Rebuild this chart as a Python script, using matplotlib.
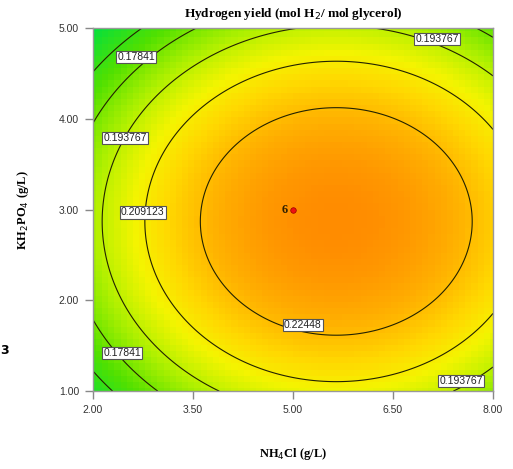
import numpy as np
import matplotlib
matplotlib.use("Agg")
import matplotlib.pyplot as plt
from matplotlib.colors import LinearSegmentedColormap

# quadratic response surface
peak_yield = 0.2401
x_center = 5.65
y_center = 2.87
x_curv = 0.00376
y_curv = 0.00994

x_range = [2.0, 8.0]
y_range = [1.0, 5.0]
levels = [0.163053, 0.17841, 0.193767, 0.209123, 0.22448]

label_texts = ["0.17841", "0.193767", "0.209123", "0.22448", "0.193767", "0.17841", "0.193767"]
label_x = [2.65, 2.48, 2.75, 5.15, 7.16, 2.44, 7.52]
label_y = [4.68, 3.79, 2.97, 1.73, 4.88, 1.42, 1.11]

design_x = [5.0]
design_y = [3.0]
design_n = ["6"]

xticks = [2.0, 3.5, 5.0, 6.5, 8.0]
yticks = [1.0, 2.0, 3.0, 4.0, 5.0]

cmap = LinearSegmentedColormap.from_list("dx", [
    (0.0, "#00e040"), (0.27, "#50e000"), (0.48, "#b0f000"),
    (0.64, "#f4f400"), (0.75, "#ffd800"), (0.86, "#ffb400"), (1.0, "#ff8c00")])

fig = plt.figure(figsize=(5.13, 4.69), dpi=100)
ax = fig.add_axes([0.181, 0.166, 0.780, 0.774])

# coarse grid for the blocky look, fine grid for the contour lines
xc = np.linspace(x_range[0], x_range[1], 66)
yc = np.linspace(y_range[0], y_range[1], 60)
Xc, Yc = np.meshgrid(xc, yc)
Zc = peak_yield - x_curv * (Xc - x_center) ** 2 - y_curv * (Yc - y_center) ** 2
ax.pcolormesh(Xc, Yc, Zc, cmap=cmap, vmin=0.145, vmax=0.2401, shading="nearest")

xf = np.linspace(x_range[0], x_range[1], 300)
yf = np.linspace(y_range[0], y_range[1], 300)
Xf, Yf = np.meshgrid(xf, yf)
Zf = peak_yield - x_curv * (Xf - x_center) ** 2 - y_curv * (Yf - y_center) ** 2
ax.contour(Xf, Yf, Zf, levels=levels, colors="#222200", linewidths=0.8)

for t, lx, ly in zip(label_texts, label_x, label_y):
    ax.text(lx, ly, t, fontsize=7.5, ha="center", va="center", color="#222222",
            family="Liberation Sans",
            bbox=dict(boxstyle="square,pad=0.12", fc="white", ec="#555555", lw=0.8))

ax.plot(design_x, design_y, "o", color="#ee1111", ms=4, mec="#990000", mew=0.5)
for dx, dy, n in zip(design_x, design_y, design_n):
    ax.text(dx - 0.08, dy, n, fontsize=9, ha="right", va="center",
            fontweight="bold", family="Liberation Serif", color="#332200")

ax.set_xlim(x_range)
ax.set_ylim(y_range)
ax.set_xticks(xticks)
ax.set_yticks(yticks)
ax.set_xticklabels(["%.2f" % v for v in xticks], family="Liberation Sans", fontsize=7.5, color="#333333")
ax.set_yticklabels(["%.2f" % v for v in yticks], family="Liberation Sans", fontsize=7.5, color="#333333")
ax.tick_params(direction="out", length=6, width=1, color="#888888", pad=4)
for s in ax.spines.values():
    s.set_color("#999999")
    s.set_linewidth(1)

ax.set_title("Hydrogen yield (mol H$_2$/ mol glycerol)", family="Liberation Serif",
             fontweight="bold", fontsize=9.5, pad=8)
ax.set_xlabel("NH$_4$Cl (g/L)", family="Liberation Serif", fontweight="bold", fontsize=9, labelpad=22)
ax.set_ylabel("KH$_2$PO$_4$ (g/L)", family="Liberation Serif", fontweight="bold", fontsize=9, labelpad=20)

fig.text(0.0, 1 - 350 / 469, "3", fontsize=9, fontweight="bold", ha="left", va="center")

fig.savefig("out.png", dpi=100)
